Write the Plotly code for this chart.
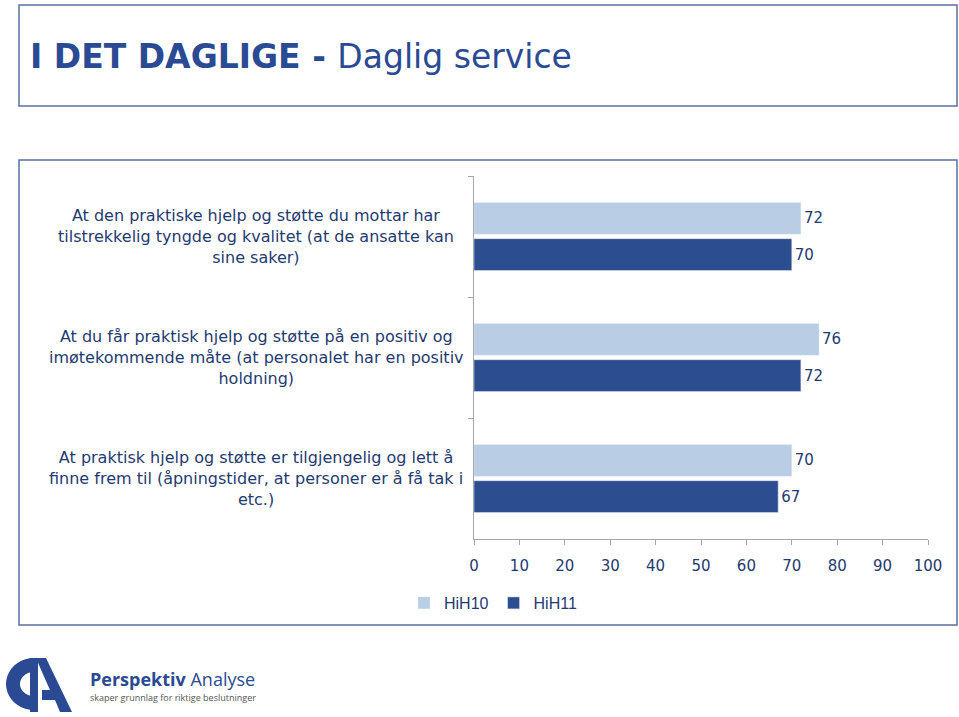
import math
import plotly.graph_objects as go

categories = [
    "At den praktiske hjelp og støtte du mottar har<br>tilstrekkelig tyngde og kvalitet (at de ansatte kan<br>sine saker)",
    "At du får praktisk hjelp og støtte på en positiv og<br>imøtekommende måte (at personalet har en positiv<br>holdning)",
    "At praktisk hjelp og støtte er tilgjengelig og lett å<br>finne frem til (åpningstider, at personer er å få tak i<br>etc.)",
]
cat_ids = ["c1", "c2", "c3"]
hih10 = [72, 76, 70]
hih11 = [70, 72, 67]
tick_vals = [0, 10, 20, 30, 40, 50, 60, 70, 80, 90, 100]

W, H = 959, 717
# screen positions of plot area
SL, SR, ST, SB = 474, 928, 176, 539
TXT = "#1F3A70"
FONT = "DejaVu Sans"


def px(x):
    return (x - SL) / (SR - SL)


def py(y):
    return (SB - y) / (SB - ST)


fig = go.Figure()
fig.add_trace(go.Bar(
    name="HiH10", y=cat_ids, x=hih10, orientation="h",
    marker=dict(color="#B9CDE5"), text=[str(v) for v in hih10],
    textposition="outside", textfont=dict(color=TXT, size=15, family=FONT),
    cliponaxis=False,
))
fig.add_trace(go.Bar(
    name="HiH11", y=cat_ids, x=hih11, orientation="h",
    marker=dict(color="#2C4D8F"), text=[str(v) for v in hih11],
    textposition="outside", textfont=dict(color=TXT, size=15, family=FONT),
    cliponaxis=False,
))

annotations = []
for cid, label in zip(cat_ids, categories):
    annotations.append(dict(
        x=px(256), xref="paper", y=cid, yref="y", text=label, showarrow=False,
        xanchor="center", yanchor="middle", align="center",
        font=dict(family=FONT, size=16, color=TXT),
    ))

# Title
annotations.append(dict(
    x=px(28), xref="paper", y=py(57), yref="paper", xanchor="left", yanchor="middle",
    text="<b>I DET DAGLIGE - </b>Daglig service", showarrow=False,
    font=dict(family=FONT, size=33, color="#2A4A94"),
))
# Logo text
annotations.append(dict(
    x=px(88), xref="paper", y=py(679), yref="paper", xanchor="left", yanchor="middle",
    text="<b>Perspektiv</b> Analyse", showarrow=False,
    font=dict(family="Open Sans", size=18, color="#2A4A94"),
))
annotations.append(dict(
    x=px(88), xref="paper", y=py(697), yref="paper", xanchor="left", yanchor="middle",
    text="skaper grunnlag for riktige beslutninger", showarrow=False,
    font=dict(family="Open Sans", size=9, color="#555555"),
))

BORDER = "#5A70A0"
shapes = [
    dict(type="rect", xref="paper", yref="paper", x0=px(19), x1=px(957), y0=py(106), y1=py(5),
         line=dict(color=BORDER, width=1.5), fillcolor="rgba(0,0,0,0)", layer="below"),
    dict(type="rect", xref="paper", yref="paper", x0=px(19), x1=px(957), y0=py(625), y1=py(160),
         line=dict(color=BORDER, width=1.5), fillcolor="rgba(0,0,0,0)", layer="below"),
]


def path(points):
    return "M " + " L ".join(f"{px(a):.5f},{py(b):.5f}" for a, b in points) + " Z"


# Logo mark: a "C"-like half ring with a stem, and an "A"
outer = [(34 - 28 * math.sin(t * math.pi / 20), 684 - 26 * math.cos(t * math.pi / 20)) for t in range(0, 21)]
inner = [(34 - 14 * math.sin(t * math.pi / 20), 684 - 12 * math.cos(t * math.pi / 20)) for t in range(20, -1, -1)]
LOGO = "#2A4A94"
shapes.append(dict(type="path", xref="paper", yref="paper", path=path(outer + inner),
                   fillcolor=LOGO, line=dict(width=0)))
shapes.append(dict(type="path", xref="paper", yref="paper",
                   path=path([(30, 658), (38, 658), (38, 712), (30, 712)]),
                   fillcolor=LOGO, line=dict(width=0)))
shapes.append(dict(type="path", xref="paper", yref="paper",
                   path=path([(36, 658), (46, 658), (72, 712), (60, 712), (55, 700), (42, 700), (42, 690), (50, 690), (42, 672)]),
                   fillcolor=LOGO, line=dict(width=0)))

fig.update_layout(
    width=W, height=H,
    margin=dict(l=SL, r=W - SR, t=ST, b=H - SB),
    paper_bgcolor="white", plot_bgcolor="white",
    barmode="group", bargap=0.4, bargroupgap=0.12,
    font=dict(family=FONT, color=TXT),
    xaxis=dict(range=[0, 100], tickvals=tick_vals, ticktext=[str(v) for v in tick_vals],
               showgrid=False, zeroline=False, showline=True, linecolor="#A6A6A6",
               ticks="outside", ticklen=5, tickcolor="#A6A6A6",
               tickfont=dict(family=FONT, size=15, color=TXT), ticklabelstandoff=8),
    yaxis=dict(autorange="reversed", showticklabels=False, showgrid=False, zeroline=False,
               showline=True, linecolor="#A6A6A6", ticks="outside", ticklen=5,
               tickcolor="#A6A6A6", tickson="boundaries"),
    legend=dict(orientation="h", x=px(404), xanchor="left", y=py(603), yanchor="middle",
                font=dict(family="Liberation Sans", size=16, color=TXT),
                itemwidth=30, bgcolor="rgba(0,0,0,0)", traceorder="normal"),
    annotations=annotations, shapes=shapes,
)

fig.write_html("out.html", config={"displayModeBar": False},
               post_script="document.body.style.margin='0';document.body.style.overflow='hidden';")
